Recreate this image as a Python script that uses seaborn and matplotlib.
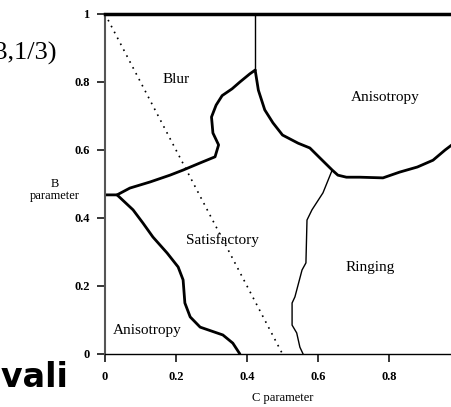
import matplotlib
matplotlib.use("Agg")
import matplotlib.pyplot as plt
import seaborn as sns
import numpy as np

# boundary between blur and satisfactory (left vertex up to the peak)
blur_c = [0.0, 0.034, 0.07, 0.127, 0.183, 0.22, 0.268, 0.31, 0.32, 0.304, 0.30, 0.313, 0.33, 0.358, 0.38, 0.408, 0.423]
blur_b = [0.468, 0.468, 0.488, 0.506, 0.526, 0.541, 0.562, 0.58, 0.615, 0.65, 0.697, 0.732, 0.76, 0.78, 0.80, 0.824, 0.835]

# boundary between satisfactory and lower-left anisotropy
aniso_lo_c = [0.034, 0.079, 0.107, 0.135, 0.175, 0.206, 0.22, 0.225, 0.24, 0.268, 0.332, 0.36, 0.38]
aniso_lo_b = [0.468, 0.424, 0.385, 0.344, 0.297, 0.256, 0.218, 0.15, 0.109, 0.079, 0.056, 0.032, 0.0]

# boundary between satisfactory/ringing and upper-right anisotropy
aniso_hi_c = [0.423, 0.432, 0.45, 0.473, 0.50, 0.544, 0.577, 0.606, 0.64, 0.656, 0.68, 0.718, 0.783, 0.83, 0.88, 0.924, 0.958, 0.977, 1.0]
aniso_hi_b = [0.835, 0.776, 0.718, 0.68, 0.644, 0.62, 0.606, 0.576, 0.541, 0.526, 0.52, 0.52, 0.518, 0.535, 0.55, 0.57, 0.60, 0.615, 0.63]

# thin boundary between satisfactory and ringing
ring_c = [0.64, 0.614, 0.583, 0.569, 0.566, 0.555, 0.535, 0.527, 0.527, 0.54, 0.549, 0.558]
ring_b = [0.541, 0.474, 0.424, 0.394, 0.268, 0.247, 0.168, 0.15, 0.085, 0.062, 0.02, 0.0]

# thin line from the peak up to B = 1
peak_c = [0.423, 0.423]
peak_b = [0.835, 1.0]

# dotted line B + 2C = 1
diag_c = [0.0, 0.5]
diag_b = [1.0, 0.0]

region_names = ["Blur", "Anisotropy", "Satisfactory", "Ringing", "Anisotropy"]
region_c = [0.20, 0.79, 0.33, 0.746, 0.118]
region_b = [0.806, 0.753, 0.335, 0.253, 0.07]

xticks = [0, 0.2, 0.4, 0.6, 0.8]
xtick_labels = ["0", "0.2", "0.4", "0.6", "0.8"]
yticks = [0, 0.2, 0.4, 0.6, 0.8, 1]
ytick_labels = ["0", "0.2", "0.4", "0.6", "0.8", "1"]

sns.set_style("ticks")
plt.rcParams["font.family"] = ["Liberation Serif", "DejaVu Serif"]
plt.rcParams["text.color"] = "black"
plt.rcParams["xtick.color"] = "black"
plt.rcParams["ytick.color"] = "black"
plt.rcParams["axes.labelcolor"] = "black"

fig = plt.figure(figsize=(4.52, 4.07), dpi=100)
ax = fig.add_axes([105 / 452, 53 / 407, 355 / 452, 340 / 407])

sns.lineplot(x=blur_c, y=blur_b, sort=False, estimator=None, color="black", lw=2.0, ax=ax)
sns.lineplot(x=aniso_lo_c, y=aniso_lo_b, sort=False, estimator=None, color="black", lw=2.0, ax=ax)
sns.lineplot(x=aniso_hi_c, y=aniso_hi_b, sort=False, estimator=None, color="black", lw=2.0, ax=ax)
sns.lineplot(x=ring_c, y=ring_b, sort=False, estimator=None, color="black", lw=1.0, ax=ax)
sns.lineplot(x=peak_c, y=peak_b, sort=False, estimator=None, color="black", lw=1.0, ax=ax)
sns.lineplot(x=diag_c, y=diag_b, sort=False, estimator=None, color="black", lw=1.2,
             linestyle=(0, (1, 3)), ax=ax)

for name, c, b in zip(region_names, region_c, region_b):
    ax.text(c, b, name, ha="center", va="center", fontsize=11)

ax.set_xlim(0, 1)
ax.set_ylim(0, 1)
ax.set_xticks(xticks)
ax.set_xticklabels(xtick_labels)
ax.set_yticks(yticks)
ax.set_yticklabels(ytick_labels)
ax.tick_params(axis="both", length=6, width=1.1, labelsize=9, color="black")
ax.tick_params(axis="x", pad=6)
ax.tick_params(axis="y", pad=5)
for lab in ax.get_xticklabels() + ax.get_yticklabels():
    lab.set_fontweight("bold")

ax.spines["right"].set_visible(False)
ax.spines["top"].set_linewidth(2.5)
ax.spines["top"].set_color("black")
ax.spines["left"].set_linewidth(1.5)
ax.spines["left"].set_color("#555555")
ax.spines["bottom"].set_linewidth(1.0)
ax.spines["bottom"].set_color("black")

ax.set_xlabel("C parameter", fontsize=9, va="center")
ax.xaxis.set_label_coords(0.50, -0.128)
ax.set_ylabel("B\nparameter", fontsize=9, rotation=0, ha="center", va="center", linespacing=1.0)
ax.yaxis.set_label_coords(-0.141, 0.482)

# pieces of the surrounding slide text, cut off by the crop
fig.text(57 / 452, 1 - 53 / 407, "(1/3,1/3)", ha="right", va="center", fontsize=19,
         color="black", family=["Liberation Serif", "DejaVu Serif"])
fig.text(69 / 452, 20 / 407, "Mitchell-Netravali", ha="right", va="baseline", fontsize=24,
         weight="heavy", color="black", family=["DejaVu Sans"])

fig.savefig("out.png", dpi=100)
